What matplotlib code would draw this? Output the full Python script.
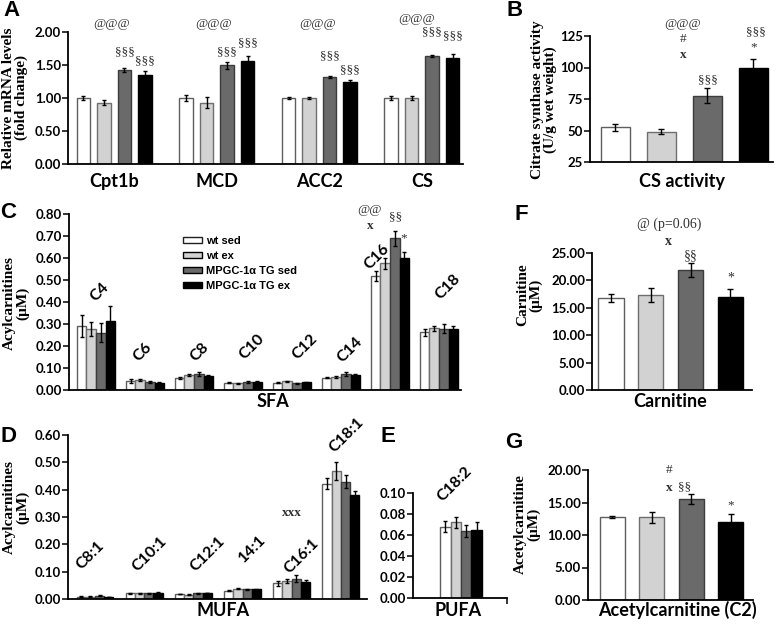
import numpy as np
import matplotlib
matplotlib.use('Agg')
import matplotlib.pyplot as plt
from matplotlib.patches import Patch
from matplotlib.ticker import FormatStrFormatter

plt.rcParams['font.family'] = ['Lato', 'DejaVu Sans']
plt.rcParams['font.weight'] = 'bold'

W, H = 777, 624

groups = ['wt sed', 'wt ex', 'MPGC-1α TG sed', 'MPGC-1α TG ex']

# A: mRNA (fold change)
a_genes = ['Cpt1b', 'MCD', 'ACC2', 'CS']
a_mean = [[0.995, 0.93, 1.425, 1.35],
          [1.00, 0.93, 1.495, 1.56],
          [1.00, 1.00, 1.325, 1.235],
          [1.00, 1.00, 1.64, 1.60]]
a_sem = [[0.03, 0.04, 0.037, 0.06],
         [0.05, 0.08, 0.05, 0.075],
         [0.02, 0.02, 0.015, 0.04],
         [0.03, 0.03, 0.012, 0.06]]

# B: citrate synthase activity
b_mean = [52.6, 49.2, 77.7, 99.4]
b_sem = [2.6, 2.2, 6.1, 7.0]

# C: SFA acylcarnitines
c_species = ['C4', 'C6', 'C8', 'C10', 'C12', 'C14', 'C16', 'C18']
c_mean = [[0.291, 0.276, 0.260, 0.314],
          [0.041, 0.044, 0.035, 0.033],
          [0.055, 0.068, 0.073, 0.065],
          [0.033, 0.030, 0.036, 0.038],
          [0.033, 0.039, 0.030, 0.035],
          [0.056, 0.059, 0.073, 0.069],
          [0.518, 0.576, 0.689, 0.601],
          [0.262, 0.280, 0.279, 0.277]]
c_sem = [[0.048, 0.032, 0.044, 0.070],
         [0.008, 0.004, 0.004, 0.003],
         [0.003, 0.004, 0.009, 0.003],
         [0.002, 0.002, 0.004, 0.003],
         [0.002, 0.002, 0.002, 0.002],
         [0.002, 0.003, 0.010, 0.004],
         [0.021, 0.025, 0.035, 0.027],
         [0.015, 0.013, 0.020, 0.012]]

# D: MUFA acylcarnitines
d_species = ['C8:1', 'C10:1', 'C12:1', '14:1', 'C16:1', 'C18:1']
d_mean = [[0.0085, 0.0085, 0.012, 0.007],
          [0.021, 0.021, 0.021, 0.023],
          [0.018, 0.016, 0.021, 0.022],
          [0.030, 0.037, 0.035, 0.035],
          [0.057, 0.066, 0.074, 0.061],
          [0.421, 0.468, 0.429, 0.380]]
d_sem = [[0.001, 0.001, 0.001, 0.001],
         [0.001, 0.001, 0.001, 0.001],
         [0.001, 0.001, 0.001, 0.001],
         [0.002, 0.002, 0.002, 0.002],
         [0.008, 0.006, 0.012, 0.008],
         [0.020, 0.033, 0.023, 0.015]]

# E: PUFA
e_species = ['C18:2']
e_mean = [[0.068, 0.072, 0.0635, 0.0645]]
e_sem = [[0.0056, 0.0056, 0.0056, 0.008]]

# F: carnitine, G: acetylcarnitine
f_mean = [16.8, 17.3, 21.9, 16.9]
f_sem = [0.7, 1.3, 1.2, 1.5]
g_mean = [12.8, 12.7, 15.5, 11.95]
g_sem = [0.2, 0.85, 0.77, 1.35]

# significance marks (x, y, text)
a_marks = [(-0.03, 2.12, '@@@'), (0.1, 1.70, '§§§'), (0.3, 1.55, '§§§'),
           (0.97, 2.12, '@@@'), (1.1, 1.70, '§§§'), (1.3, 1.83, '§§§'),
           (1.98, 2.12, '@@@'), (2.1, 1.63, '§§§'), (2.3, 1.415, '§§§'),
           (2.95, 2.20, '@@@'), (3.1, 1.99, '§§§'), (3.3, 1.93, '§§§')]
b_marks = [(1.47, 134.3, '@@@'), (1.47, 122.9, '#'), (1.47, 109.7, 'x'),
           (2.0, 89.7, '§§§'), (3.05, 128, '§§§'), (3.0, 116, '*')]
c_marks = [(5.59, 0.818, '@@'), (5.59, 0.745, 'x'), (6.12, 0.786, '§§'), (6.27, 0.69, '*')]
d_marks = [(4.0, 0.315, 'xxx')]
f_marks = [(1.47, 30.2, '@ (p=0.06)'), (1.45, 27.1, 'x'), (2.0, 24.5, '§§'), (3.0, 20.4, '*')]
g_marks = [(1.45, 20.0, '#'), (1.45, 17.3, 'x'), (1.83, 17.3, '§§'), (3.0, 14.6, '*')]

fills = ['white', '#d2d2d2', '#6a6a6a', 'black']
edges = ['#5e5e5e', '#6e6e6e', '#3c3c3c', 'black']
SERIF = 'Liberation Serif'

fig = plt.figure(figsize=(W / 100, H / 100), dpi=100)


def ftext(x, y, s, **kw):
    fig.text(x / W, 1 - y / H, s, **kw)


def new_ax(l, t, r, b, ylim, yticks, fmt):
    ax = fig.add_axes([l / W, 1 - b / H, (r - l) / W, (b - t) / H])
    for s in ['top', 'right']:
        ax.spines[s].set_visible(False)
    for s in ['left', 'bottom']:
        ax.spines[s].set_linewidth(1.3)
    ax.set_ylim(*ylim)
    ax.set_yticks(yticks)
    ax.yaxis.set_major_formatter(FormatStrFormatter(fmt))
    ax.tick_params(axis='y', length=4, width=1.1, pad=1, labelsize=9.5)
    ax.set_xticks([])
    return ax


def grouped(ax, means, sems, width, pitch, cap=1.5):
    m = np.asarray(means)
    s = np.asarray(sems)
    x = np.arange(m.shape[0])
    for k in range(4):
        ax.bar(x + (k - 1.5) * pitch, m[:, k], width, yerr=s[:, k],
               color=fills[k], edgecolor=edges[k], linewidth=1, capsize=cap,
               error_kw=dict(elinewidth=1, ecolor='black', capthick=1))


def single(ax, means, sems, width, cap=2.5):
    x = np.arange(len(means))
    ax.bar(x, means, width, yerr=sems, color=fills, edgecolor=edges, linewidth=1,
           capsize=cap, error_kw=dict(elinewidth=1, ecolor='black', capthick=1))


def marks(ax, lst, size=9.5):
    for x, y, s in lst:
        ax.text(x, y, s, ha='center', va='center', fontsize=size, family=SERIF,
                fontweight='bold' if s.startswith('x') else 'normal',
                color='#303030', clip_on=False)


# ---- A
axA = new_ax(68, 32, 463, 164, (0, 2), [0, 0.5, 1, 1.5, 2], '%.2f')
grouped(axA, a_mean, a_sem, 0.13, 0.2)
axA.set_xlim(-0.451, 3.402)
marks(axA, a_marks)
for i, g in enumerate(a_genes):
    ftext(114.25 + 102.5 * i, 187, g, ha='center', va='baseline', fontsize=13)

# ---- B
axB = new_ax(590, 36, 773, 162, (25, 125), [25, 50, 75, 100, 125], '%d')
single(axB, b_mean, b_sem, 0.63)
axB.set_xlim(-0.554, 3.424)
marks(axB, b_marks)
ftext(682, 187, 'CS activity', ha='center', va='baseline', fontsize=13)

# ---- C
axC = new_ax(69, 214, 461, 390, (0, 0.8), np.arange(0, 0.81, 0.1), '%.2f')
grouped(axC, c_mean, c_sem, 0.194, 0.194)
axC.set_xlim(-0.551, 7.449)
marks(axC, c_marks)
c_lab = [(100, 292), (143, 352), (200, 352), (252, 347), (305, 347), (350, 350), (377, 257), (448, 287)]
for (x, y), s in zip(c_lab, c_species):
    ftext(x, y, s, ha='center', va='center', rotation=45, fontsize=11.5)
ftext(273, 407, 'SFA', ha='center', va='baseline', fontsize=13)
handles = [Patch(facecolor=fills[k], edgecolor='black' if k else '#202020') for k in range(4)]
fig.legend(handles, groups, loc='upper left', bbox_to_anchor=(183 / W, 1 - 236 / H),
           frameon=False, prop=dict(family='Liberation Sans', weight='bold', size=8),
           handlelength=1.7, handleheight=0.5, labelspacing=0.45, handletextpad=0.4,
           borderpad=0, borderaxespad=0)

# ---- D
axD = new_ax(68, 435, 367, 599, (0, 0.6), np.arange(0, 0.61, 0.1), '%.2f')
grouped(axD, d_mean, d_sem, 0.188, 0.188)
axD.set_xlim(-0.549, 5.53)
marks(axD, d_marks)
d_lab = [(90, 555), (150, 554), (208, 554), (252, 549), (302, 556), (347, 435)]
for (x, y), s in zip(d_lab, d_species):
    ftext(x, y, s, ha='center', va='center', rotation=45, fontsize=11.5)
ftext(223, 616, 'MUFA', ha='center', va='baseline', fontsize=13)

# ---- E
axE = new_ax(413, 493, 507, 598, (0, 0.1), np.arange(0, 0.101, 0.02), '%.2f')
grouped(axE, e_mean, e_sem, 0.214, 0.214)
axE.set_xlim(-0.98, 0.94)
axE.set_xticks([0.94])
axE.set_xticklabels([''])
axE.tick_params(axis='x', length=4, width=1.1)
ftext(455, 484, e_species[0], ha='center', va='center', rotation=45, fontsize=11.5)
ftext(458, 616, 'PUFA', ha='center', va='baseline', fontsize=13)

# ---- F
axF = new_ax(592, 253, 752, 390, (0, 25), [0, 5, 10, 15, 20, 25], '%.2f')
single(axF, f_mean, f_sem, 0.63)
axF.set_xlim(-0.477, 3.54)
marks(axF, f_marks, size=10)
ftext(670, 407, 'Carnitine', ha='center', va='baseline', fontsize=13)

# ---- G
axG = new_ax(588, 470, 753, 600, (0, 20), [0, 5, 10, 15, 20], '%.2f')
single(axG, g_mean, g_sem, 0.63)
axG.set_xlim(-0.62, 3.57)
marks(axG, g_marks)
ftext(677, 616, 'Acetylcarnitine (C2)', ha='center', va='baseline', fontsize=13)

# y labels
ylab = dict(rotation=90, ha='center', va='center', multialignment='center',
            family=SERIF, fontweight='bold', fontsize=11, linespacing=1.0)
ftext(15, 98, 'Relative mRNA levels\n(fold change)', **ylab)
ftext(544, 100, 'Citrate synthase activity\n(U/g wet weight)', **ylab)
ftext(16, 303, 'Acylcarnitines\n(µM)', **ylab)
ftext(16, 507, 'Acylcarnitines\n(µM)', **ylab)
ftext(529, 295, 'Carnitine\n(µM)', **ylab)
ftext(527, 524, 'Acetylcarnitine\n(µM)', **ylab)

# panel letters
for s, x, y in [('A', 11, 11), ('B', 515, 10), ('C', 8, 213), ('D', 8, 437),
                ('E', 388, 437), ('F', 521, 215), ('G', 514, 443)]:
    ftext(x, y, s, ha='center', va='center', family='Liberation Sans',
          fontweight='bold', fontsize=16)

fig.savefig('out.png', dpi=100)
